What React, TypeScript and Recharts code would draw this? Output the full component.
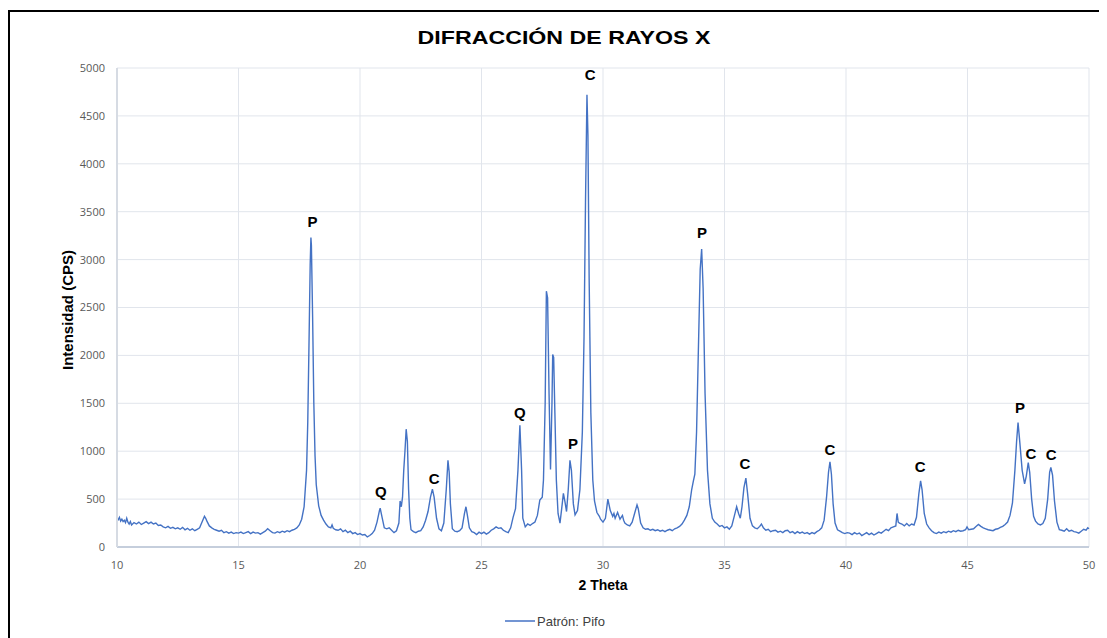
import React from "react";
import { LineChart, Line, XAxis, YAxis, CartesianGrid, ReferenceDot } from "recharts";

// 2θ / intensity pairs
const scan10to20: [number, number][] = [
  [10.0, 300], [10.05, 285], [10.1, 310], [10.15, 270], [10.2, 290], [10.25, 265], [10.3, 280],
  [10.35, 255], [10.4, 300], [10.45, 260], [10.5, 240], [10.55, 265], [10.6, 230], [10.7, 255],
  [10.8, 240], [10.9, 260], [11.0, 235], [11.1, 250], [11.2, 265], [11.3, 245], [11.4, 260],
  [11.5, 240], [11.6, 250], [11.7, 225], [11.8, 230], [11.9, 210], [12.0, 200], [12.1, 215],
  [12.2, 195], [12.3, 205], [12.4, 190], [12.5, 200], [12.6, 185], [12.7, 205], [12.8, 180],
  [12.9, 195], [13.0, 175], [13.1, 190], [13.2, 170], [13.3, 185], [13.4, 200], [13.5, 260],
  [13.6, 320], [13.65, 300], [13.7, 270], [13.8, 220], [13.9, 200], [14.0, 185], [14.1, 175],
  [14.2, 165], [14.3, 175], [14.4, 150], [14.5, 160], [14.6, 145], [14.7, 155], [14.8, 140],
  [14.9, 150], [15.0, 145], [15.1, 155], [15.2, 140], [15.3, 150], [15.4, 160], [15.5, 140],
  [15.6, 155], [15.7, 145], [15.8, 150], [15.9, 135], [16.0, 150], [16.1, 165], [16.2, 190],
  [16.3, 170], [16.4, 150], [16.5, 145], [16.6, 160], [16.7, 150], [16.8, 165], [16.9, 155],
  [17.0, 170], [17.1, 160], [17.2, 175], [17.3, 185], [17.4, 200], [17.5, 230], [17.6, 290],
  [17.7, 420], [17.8, 800], [17.85, 1300], [17.9, 2100], [17.95, 2950], [17.98, 3230],
  [18.0, 3150], [18.05, 2400], [18.1, 1500], [18.15, 950], [18.2, 650], [18.3, 430], [18.4, 330],
  [18.5, 280], [18.6, 240], [18.7, 210], [18.8, 200], [18.85, 230], [18.9, 195], [19.0, 180],
  [19.1, 175], [19.2, 190], [19.3, 160], [19.4, 175], [19.5, 150], [19.6, 165], [19.7, 140],
  [19.8, 150], [19.9, 130],
];

const scan20to30: [number, number][] = [
  [20.0, 140], [20.1, 125], [20.2, 130], [20.3, 105], [20.4, 120], [20.5, 140], [20.6, 175],
  [20.7, 260], [20.8, 380], [20.83, 405], [20.9, 320], [21.0, 200], [21.1, 190], [21.2, 200],
  [21.3, 175], [21.4, 150], [21.5, 170], [21.6, 250], [21.65, 480], [21.7, 420], [21.75, 520],
  [21.8, 800], [21.85, 1000], [21.9, 1230], [21.95, 1100], [22.0, 600], [22.05, 300], [22.1, 180],
  [22.2, 160], [22.3, 150], [22.4, 165], [22.5, 170], [22.6, 210], [22.7, 280], [22.8, 370],
  [22.9, 520], [22.98, 605], [23.05, 520], [23.15, 300], [23.25, 190], [23.35, 170], [23.45, 250],
  [23.55, 600], [23.62, 905], [23.67, 780], [23.72, 450], [23.8, 190], [23.9, 165], [24.0, 160],
  [24.1, 170], [24.2, 200], [24.3, 350], [24.36, 420], [24.42, 330], [24.5, 200], [24.6, 160],
  [24.7, 150], [24.8, 130], [24.9, 155], [25.0, 140], [25.1, 155], [25.2, 135], [25.3, 150],
  [25.4, 175], [25.5, 190], [25.6, 210], [25.7, 195], [25.8, 200], [25.9, 175], [26.0, 160],
  [26.1, 150], [26.2, 200], [26.3, 310], [26.4, 400], [26.5, 800], [26.58, 1270], [26.65, 800],
  [26.7, 300], [26.8, 210], [26.9, 240], [27.0, 225], [27.1, 245], [27.2, 260], [27.3, 330],
  [27.4, 490], [27.5, 520], [27.55, 700], [27.62, 1500], [27.67, 2670], [27.72, 2600],
  [27.78, 1600], [27.84, 810], [27.9, 1500], [27.93, 2010], [27.97, 1980], [28.02, 1400],
  [28.08, 700], [28.15, 350], [28.23, 250], [28.3, 400], [28.37, 560], [28.43, 480], [28.5, 370],
  [28.57, 600], [28.64, 905], [28.7, 800], [28.78, 450], [28.85, 335], [28.95, 380], [29.05, 600],
  [29.15, 1200], [29.22, 2200], [29.28, 3600], [29.34, 4720], [29.38, 4300], [29.43, 2800],
  [29.5, 1400], [29.58, 700], [29.65, 480], [29.75, 360], [29.85, 320], [29.9, 290],
];

const scan30to40: [number, number][] = [
  [30.0, 260], [30.1, 300], [30.2, 500], [30.25, 440], [30.3, 380], [30.4, 320], [30.45, 350],
  [30.5, 300], [30.6, 360], [30.7, 290], [30.8, 330], [30.85, 280], [30.9, 250], [31.0, 230],
  [31.1, 220], [31.2, 260], [31.3, 350], [31.4, 440], [31.45, 400], [31.55, 250], [31.65, 200],
  [31.75, 185], [31.85, 190], [31.95, 175], [32.05, 185], [32.15, 170], [32.25, 180], [32.35, 165],
  [32.45, 175], [32.55, 160], [32.65, 175], [32.75, 185], [32.85, 170], [32.95, 190], [33.05, 200],
  [33.15, 215], [33.25, 240], [33.35, 280], [33.45, 330], [33.55, 420], [33.65, 600], [33.72, 690],
  [33.78, 760], [33.85, 1200], [33.92, 2000], [34.0, 2900], [34.06, 3110], [34.12, 2700],
  [34.2, 1600], [34.3, 800], [34.4, 450], [34.5, 300], [34.6, 260], [34.7, 240], [34.8, 215],
  [34.9, 225], [35.0, 200], [35.1, 210], [35.2, 185], [35.3, 220], [35.4, 320], [35.5, 420],
  [35.58, 350], [35.65, 300], [35.72, 420], [35.8, 620], [35.88, 720], [35.95, 560], [36.05, 300],
  [36.15, 220], [36.25, 200], [36.35, 190], [36.45, 215], [36.52, 240], [36.6, 200], [36.7, 175],
  [36.8, 185], [36.9, 160], [37.0, 170], [37.1, 175], [37.2, 155], [37.3, 165], [37.4, 150],
  [37.5, 170], [37.6, 175], [37.7, 150], [37.8, 160], [37.9, 140], [38.0, 160], [38.1, 145],
  [38.2, 155], [38.3, 140], [38.4, 150], [38.5, 135], [38.6, 150], [38.7, 140], [38.8, 160],
  [38.9, 175], [39.0, 200], [39.1, 280], [39.2, 520], [39.28, 780], [39.34, 890], [39.4, 760],
  [39.47, 450], [39.55, 250], [39.65, 180], [39.75, 165], [39.85, 150], [39.95, 140],
];

const scan40to50: [number, number][] = [
  [40.05, 150], [40.15, 145], [40.25, 130], [40.35, 150], [40.45, 135], [40.55, 145], [40.65, 120],
  [40.75, 135], [40.85, 150], [40.95, 130], [41.05, 145], [41.15, 125], [41.25, 140], [41.35, 155],
  [41.45, 145], [41.55, 165], [41.65, 185], [41.75, 170], [41.85, 200], [41.95, 210], [42.05, 220],
  [42.1, 350], [42.15, 260], [42.2, 250], [42.3, 240], [42.4, 220], [42.5, 245], [42.6, 220],
  [42.7, 240], [42.8, 230], [42.9, 310], [43.0, 560], [43.07, 690], [43.13, 600], [43.22, 350],
  [43.32, 240], [43.42, 200], [43.52, 170], [43.62, 150], [43.72, 140], [43.82, 155], [43.92, 145],
  [44.02, 160], [44.12, 150], [44.22, 165], [44.32, 155], [44.42, 170], [44.52, 160], [44.62, 175],
  [44.72, 165], [44.82, 170], [44.92, 180], [44.98, 210], [45.05, 180], [45.15, 185], [45.25, 190],
  [45.35, 215], [45.45, 235], [45.55, 215], [45.65, 200], [45.75, 190], [45.85, 180], [45.95, 175],
  [46.05, 170], [46.15, 185], [46.25, 190], [46.35, 205], [46.45, 215], [46.55, 235], [46.65, 260],
  [46.75, 330], [46.85, 460], [46.95, 800], [47.02, 1100], [47.08, 1300], [47.15, 1100],
  [47.25, 800], [47.35, 660], [47.42, 740], [47.5, 880], [47.56, 780], [47.64, 500], [47.72, 320],
  [47.8, 270], [47.9, 240], [48.0, 230], [48.1, 245], [48.2, 300], [48.3, 500], [48.38, 780],
  [48.43, 830], [48.5, 750], [48.58, 480], [48.68, 260], [48.78, 180], [48.88, 175], [48.98, 165],
  [49.08, 190], [49.18, 165], [49.28, 175], [49.38, 160], [49.48, 155], [49.58, 145], [49.68, 165],
  [49.78, 185], [49.88, 175], [49.95, 200], [50.0, 190],
];

// phase markers: P, Q, C and where their letters sit
const peakPhase = ["P", "Q", "C", "Q", "P", "C", "P", "C", "C", "C", "P", "C", "C"];
const peakTheta = [18.05, 20.86, 23.05, 26.58, 28.77, 29.47, 34.07, 35.84, 39.34, 43.05, 47.16, 47.61, 48.44];
const peakLabelCps = [3392, 574, 710, 1399, 1075, 4927, 3278, 866, 1013, 835, 1451, 971, 960];

const xTicks = [10, 15, 20, 25, 30, 35, 40, 45, 50];
const yTicks = [0, 500, 1000, 1500, 2000, 2500, 3000, 3500, 4000, 4500, 5000];

const points = [...scan10to20, ...scan20to30, ...scan30to40, ...scan40to50].map(([theta, cps]) => ({
  theta,
  cps,
}));

const lineColor = "#4472C4";
const tickStyle = { fontSize: 11, fill: "#595959", fontFamily: "'Open Sans', sans-serif" };
const boldFont = "'Liberation Sans', Arial, sans-serif";

export default function App() {
  return (
    <div style={{ position: "relative", width: 1099, height: 630, background: "#fff" }}>
      <div style={{ position: "absolute", left: 0, top: 2, width: 1099, height: 2, background: "#000" }} />
      <div style={{ position: "absolute", left: 0, top: 2, width: 2, height: 628, background: "#000" }} />
      <div style={{ position: "absolute", top: 0, left: 0 }}>
        <LineChart width={1099} height={630} data={points} margin={{ top: 60, right: 18, bottom: 61, left: 49 }}>
          <CartesianGrid stroke="#e1e5ec" strokeWidth={1} />
          <XAxis
            dataKey="theta"
            type="number"
            domain={[10, 50]}
            ticks={xTicks}
            height={30}
            tick={tickStyle}
            tickLine={false}
            tickMargin={8}
            axisLine={{ stroke: "#c5cedc", strokeWidth: 2 }}
          />
          <YAxis
            type="number"
            domain={[0, 5000]}
            ticks={yTicks}
            width={60}
            tick={tickStyle}
            tickLine={false}
            tickMargin={6}
            axisLine={{ stroke: "#d6dbe3", strokeWidth: 2 }}
          />
          <Line
            type="linear"
            dataKey="cps"
            stroke={lineColor}
            strokeWidth={1.4}
            dot={false}
            isAnimationActive={false}
          />
          {peakPhase.map((phase, i) => (
            <ReferenceDot
              key={i}
              x={peakTheta[i]}
              y={peakLabelCps[i]}
              r={0}
              fill="none"
              stroke="none"
              label={{
                value: phase,
                position: "center",
                fill: "#000",
                fontSize: 15,
                fontWeight: 700,
                fontFamily: boldFont,
              }}
            />
          ))}
        </LineChart>
      </div>
      <div
        style={{
          position: "absolute",
          left: 556,
          top: 30,
          transform: "translate(-50%, -50%) scaleX(1.22)",
          fontFamily: boldFont,
          fontWeight: 700,
          fontSize: 19,
          whiteSpace: "nowrap",
        }}
      >
        DIFRACCIÓN DE RAYOS X
      </div>
      <div
        style={{
          position: "absolute",
          left: 59,
          top: 302,
          transform: "translate(-50%, -50%) rotate(-90deg)",
          fontFamily: boldFont,
          fontWeight: 700,
          fontSize: 15,
          whiteSpace: "nowrap",
        }}
      >
        Intensidad (CPS)
      </div>
      <div
        style={{
          position: "absolute",
          left: 595,
          top: 577,
          transform: "translate(-50%, -50%)",
          fontFamily: boldFont,
          fontWeight: 700,
          fontSize: 14,
          whiteSpace: "nowrap",
        }}
      >
        2 Theta
      </div>
      <div
        style={{
          position: "absolute",
          left: 497,
          top: 604,
          display: "flex",
          alignItems: "center",
          fontFamily: boldFont,
          fontSize: 13,
          color: "#404040",
        }}
      >
        <svg width={30} height={18}>
          <line x1={0} y1={9} x2={30} y2={9} stroke={lineColor} strokeWidth={1.5} />
        </svg>
        <span style={{ marginLeft: 2 }}>Patrón: Pifo</span>
      </div>
    </div>
  );
}
